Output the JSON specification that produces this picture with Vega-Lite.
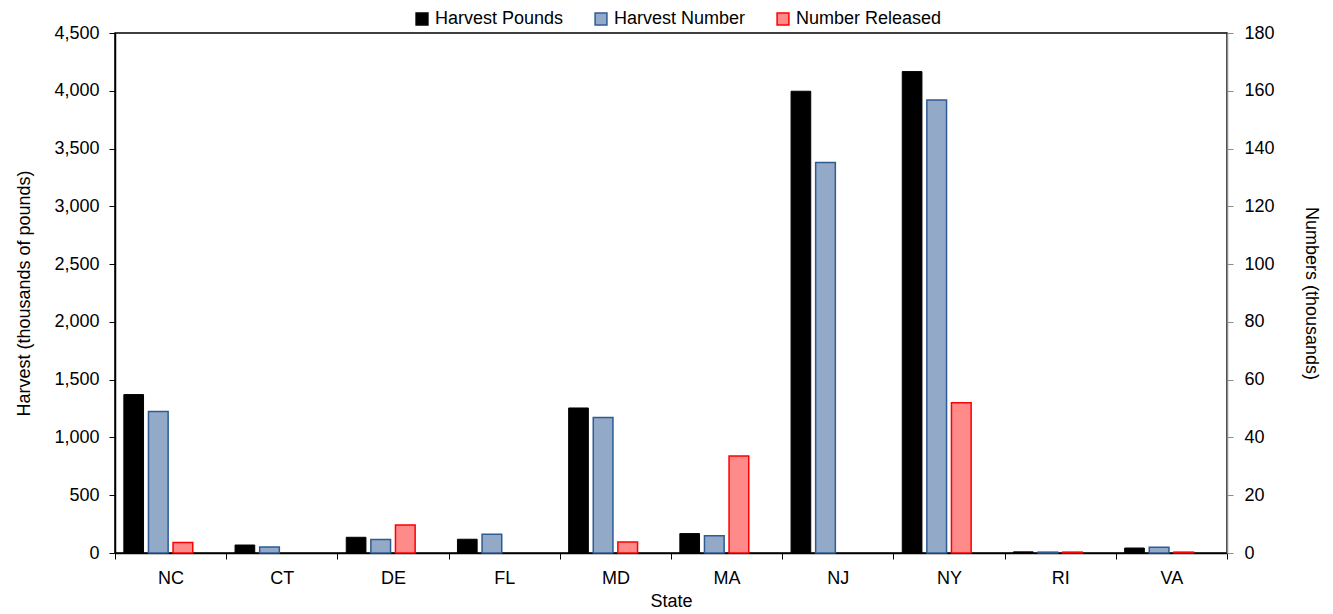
{
  "$schema": "https://vega.github.io/schema/vega-lite/v6.json",
  "width": 1112,
  "height": 520,
  "autosize": "none",
  "padding": {"left": 115, "top": 33, "right": 106, "bottom": 61},
  "background": "white",
  "config": {
    "font": "Liberation Sans",
    "view": {"stroke": "#000", "strokeWidth": 1.5},
    "axis": {"labelFontSize": 18, "titleFontSize": 18, "titleFontWeight": "normal", "labelColor": "#000", "titleColor": "#000", "grid": false},
    "legend": {"labelFontSize": 18, "labelColor": "#000"}
  },
  "data": {
    "values": [
      {"state": "NC", "series": "Harvest Pounds", "value": 1371},
      {"state": "NC", "series": "Harvest Number", "value": 49.0},
      {"state": "NC", "series": "Number Released", "value": 3.6},
      {"state": "CT", "series": "Harvest Pounds", "value": 69},
      {"state": "CT", "series": "Harvest Number", "value": 2.1},
      {"state": "CT", "series": "Number Released", "value": 0},
      {"state": "DE", "series": "Harvest Pounds", "value": 136},
      {"state": "DE", "series": "Harvest Number", "value": 4.7},
      {"state": "DE", "series": "Number Released", "value": 9.7},
      {"state": "FL", "series": "Harvest Pounds", "value": 119},
      {"state": "FL", "series": "Harvest Number", "value": 6.5},
      {"state": "FL", "series": "Number Released", "value": 0},
      {"state": "MD", "series": "Harvest Pounds", "value": 1255},
      {"state": "MD", "series": "Harvest Number", "value": 46.9},
      {"state": "MD", "series": "Number Released", "value": 3.8},
      {"state": "MA", "series": "Harvest Pounds", "value": 168},
      {"state": "MA", "series": "Harvest Number", "value": 6.0},
      {"state": "MA", "series": "Number Released", "value": 33.6},
      {"state": "NJ", "series": "Harvest Pounds", "value": 3996},
      {"state": "NJ", "series": "Harvest Number", "value": 135.2},
      {"state": "NJ", "series": "Number Released", "value": 0},
      {"state": "NY", "series": "Harvest Pounds", "value": 4166},
      {"state": "NY", "series": "Harvest Number", "value": 156.8},
      {"state": "NY", "series": "Number Released", "value": 52.0},
      {"state": "RI", "series": "Harvest Pounds", "value": 10},
      {"state": "RI", "series": "Harvest Number", "value": 0.3},
      {"state": "RI", "series": "Number Released", "value": 0.3},
      {"state": "VA", "series": "Harvest Pounds", "value": 43},
      {"state": "VA", "series": "Harvest Number", "value": 2.0},
      {"state": "VA", "series": "Number Released", "value": 0.3}
    ]
  },
  "encoding": {
    "x": {
      "field": "state",
      "type": "nominal",
      "sort": ["NC", "CT", "DE", "FL", "MD", "MA", "NJ", "NY", "RI", "VA"],
      "scale": {"paddingInner": 0, "paddingOuter": 0},
      "title": "State",
      "axis": {"labelAngle": 0, "tickBand": "extent", "tickSize": 6, "domainColor": "#000", "tickColor": "#000", "domainWidth": 1.5, "labelPadding": 10, "titlePadding": 5}
    },
    "xOffset": {
      "field": "series",
      "type": "nominal",
      "scale": {"domain": ["Harvest Pounds", "Harvest Number", "Number Released", "gap"], "paddingInner": 0.2, "paddingOuter": 0.36}
    },
    "fill": {
      "field": "series",
      "type": "nominal",
      "scale": {"domain": ["Harvest Pounds", "Harvest Number", "Number Released"], "range": ["#000000", "#93A9C8", "#FF8A8A"]},
      "legend": {"title": null, "orient": "none", "direction": "horizontal", "legendX": 298, "legendY": -23, "symbolType": "square", "symbolSize": 140, "symbolStrokeWidth": 1.5, "labelOffset": 4, "columnPadding": 28}
    },
    "stroke": {
      "field": "series",
      "type": "nominal",
      "scale": {"domain": ["Harvest Pounds", "Harvest Number", "Number Released"], "range": ["#000000", "#2E5B94", "#FF0000"]},
      "legend": {"title": null, "orient": "none", "direction": "horizontal", "legendX": 298, "legendY": -23, "symbolType": "square", "symbolSize": 140, "symbolStrokeWidth": 1.5, "labelOffset": 4, "columnPadding": 28}
    }
  },
  "layer": [
    {
      "transform": [{"filter": "datum.series === 'Harvest Pounds'"}],
      "mark": {"type": "bar", "strokeWidth": 1},
      "encoding": {
        "y": {
          "field": "value",
          "type": "quantitative",
          "scale": {"domain": [0, 4500], "nice": false},
          "title": "Harvest (thousands of pounds)",
          "axis": {"values": [0, 500, 1000, 1500, 2000, 2500, 3000, 3500, 4000, 4500], "format": ",.0f", "tickSize": 6, "domainColor": "#000", "tickColor": "#000", "domainWidth": 1.5, "labelPadding": 10, "titlePadding": 20}
        }
      }
    },
    {
      "transform": [{"filter": "datum.series !== 'Harvest Pounds'"}],
      "mark": {"type": "bar", "strokeWidth": 1.5},
      "encoding": {
        "y": {
          "field": "value",
          "type": "quantitative",
          "scale": {"domain": [0, 180], "nice": false},
          "title": "Numbers (thousands)",
          "axis": {"orient": "right", "values": [0, 20, 40, 60, 80, 100, 120, 140, 160, 180], "tickSize": 6, "domainColor": "#8C8C8C", "tickColor": "#8C8C8C", "domainWidth": 1.5, "labelPadding": 11, "titlePadding": 27, "titleAngle": 90}
        },
        "strokeOpacity": {"condition": {"test": "datum.value === 0", "value": 0}, "value": 1}
      }
    }
  ],
  "resolve": {"scale": {"y": "independent"}}
}
